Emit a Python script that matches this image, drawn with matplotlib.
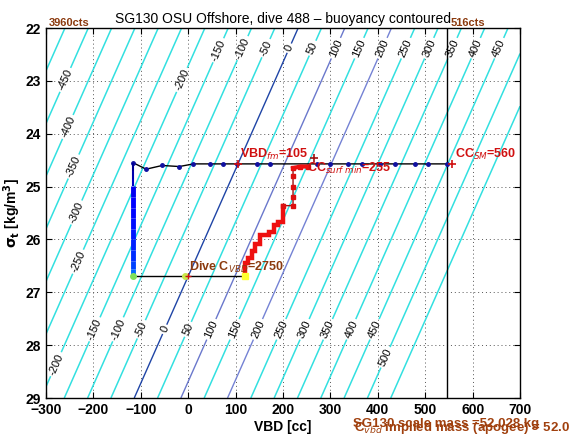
import numpy as np
import matplotlib
matplotlib.use("Agg")
import matplotlib.pyplot as plt
from matplotlib.collections import LineCollection

plt.rcParams['font.family'] = ['Liberation Sans', 'DejaVu Sans']

# ---------------- data ----------------
title = "SG130 OSU Offshore, dive 488 \u2013 buoyancy contoured"
xticks = [-300, -200, -100, 0, 100, 200, 300, 400, 500, 600, 700]
yticks = [22, 23, 24, 25, 26, 27, 28, 29]

# buoyancy model: zero-buoyancy VBD at sigma=29 and slope (cc per sigma unit)
vbd_zero_at_29 = -114.0
vbd_per_sigma = 49.4
gain = 50.0 / 49.2
contour_levels = list(range(-550, 551, 50))
dark_levels = {0: '#1f45a6', 100: '#6a78cc', 200: '#7482d4'}

# surface / pumping line (VBD, sigma)
surf_vbd = [-116, -89, -55, -19, 11, 46, 74, 103, 146, 173, 272, 300, 338, 367, 405, 437, 479, 506, 546]
surf_sig = [24.55, 24.67, 24.60, 24.62, 24.57, 24.57, 24.57, 24.57, 24.57, 24.57,
            24.57, 24.57, 24.57, 24.57, 24.57, 24.57, 24.57, 24.57, 24.57]

# descent (VBD constant)
desc_vbd = -116
desc_sig = [24.55, 24.70, 24.85, 24.99, 25.20, 25.40, 25.60, 25.80, 26.00, 26.20, 26.40, 26.55, 26.65, 26.70]
desc_col = [0.02, 0.04, 0.06, 0.10, 0.12, 0.13, 0.14, 0.15, 0.16, 0.17, 0.19, 0.23, 0.30, 0.40]

# apogee segment
apo_vbd = [-116, -6, 120]
apo_sig = [26.70, 26.70, 26.70]
apo_col = ['#7ee05a', '#c8e84a', '#ffff30']

# climb staircase
climb_vbd = [120, 120, 125, 125, 135, 135, 140, 140, 152, 152, 170, 170, 180, 180, 190, 190, 200, 200]
climb_sig = [26.69, 26.44, 26.44, 26.36, 26.36, 26.22, 26.22, 26.08, 26.08, 25.92, 25.92, 25.85,
             25.85, 25.72, 25.72, 25.66, 25.66, 25.36]
climb2_vbd = [200, 221, 221, 221, 221, 221, 236, 253]
climb2_sig = [25.36, 25.36, 25.20, 25.00, 24.80, 24.65, 24.62, 24.62]

vbd_fm = 105
cc_surf_min = 255
cc_sm = 560
dive_cvbd = 2750
vbd_min_line = -300
vbd_max_line = 546
sigma_surface = 24.57
sigma_apogee = 26.70

# ---------------- figure ----------------
fig = plt.figure(figsize=(5.69, 4.42), dpi=100)
ax = fig.add_axes([0.081, 0.0995, 0.833, 0.837])
ax.set_xlim(-300, 700)
ax.set_ylim(29, 22)

V, S = np.meshgrid(np.linspace(-300, 700, 201), np.linspace(22, 29, 141))
B = gain * (V - (vbd_zero_at_29 + vbd_per_sigma * (29 - S)))
cols = [dark_levels.get(l, '#33e0e0') for l in contour_levels]
lws = [1.0 if l in dark_levels else 1.1 for l in contour_levels]
cs = ax.contour(V, S, B, levels=contour_levels, colors=cols, linewidths=lws)

def on_line(b, sig):
    return (vbd_zero_at_29 + vbd_per_sigma * (29 - sig) + b / gain, sig)

label_spots = []
for b, sg in [(-450, 22.98), (-400, 23.87), (-350, 24.62), (-300, 25.49), (-250, 26.42),
              (-200, 28.36), (-200, 22.98), (-150, 22.42), (-150, 27.70)]:
    label_spots.append(on_line(b, sg))
for b in range(-100, 451, 50):
    label_spots.append(on_line(b, 22.38))
    label_spots.append(on_line(b, 27.70))
label_spots.append(on_line(500, 28.23))
texts = ax.clabel(cs, inline=True, fontsize=8, fmt=lambda v: '%d' % round(v),
                  manual=label_spots, colors='black', inline_spacing=2)

# screen-space angle of contour lines
fig.canvas.draw()
p0 = ax.transData.transform(on_line(0, 29.0))
p1 = ax.transData.transform(on_line(0, 22.0))
ang = np.degrees(np.arctan2(p1[1] - p0[1], p1[0] - p0[0]))
for t in cs.labelTexts:
    t.set_rotation(ang)

# vertical count-limit lines
ax.axvline(vbd_min_line, color='black', lw=1.2)
ax.axvline(vbd_max_line, color='black', lw=1.0)

# surface line
ax.plot(surf_vbd, surf_sig, color='black', lw=1.0, marker='o', ms=2.5,
        mfc='#1010a0', mec='#1010a0', zorder=5)

# descent colored
cmap = plt.get_cmap('jet')
pts = np.array([[desc_vbd, s] for s in desc_sig])
segs = np.stack([pts[:-1], pts[1:]], axis=1)
widths = [1.5 if s < 24.99 else 3.5 for s in desc_sig[:-1]]
lc = LineCollection(segs, colors=[cmap(c) for c in desc_col[:-1]], linewidths=widths, zorder=6)
ax.add_collection(lc)

# apogee
ax.plot(apo_vbd, apo_sig, color='black', lw=1.0, zorder=5)
for v, s, c in zip(apo_vbd, apo_sig, apo_col):
    ax.plot(v, s, marker='s' if v == apo_vbd[-1] else 'o', ms=4, color=c, zorder=7)

# climb
ax.plot(climb_vbd, climb_sig, color='#ee1010', lw=3.2, solid_joinstyle='miter', zorder=6)
ax.plot(climb2_vbd, climb2_sig, color='#a01010', lw=1.0, marker='s', ms=2.5,
        mfc='#dd1010', mec='#dd1010', zorder=6)
ax.plot(climb2_vbd[-3:], climb2_sig[-3:], color='#ee1010', lw=3.0, zorder=6)

# markers and annotations
red = '#d01010'
brown = '#8b3a0e'
ax.plot(vbd_fm, sigma_surface, '+', color=red, ms=6, mew=1.2, zorder=8)
ax.text(vbd_fm + 5, sigma_surface - 0.03, 'VBD$_{fm}$=%d' % vbd_fm, color=red,
        fontsize=9, fontweight='bold', va='bottom', ha='left', zorder=9)
ax.plot(cc_surf_min + 10, sigma_surface - 0.12, '+', color='#a01010', ms=6, mew=1.2, zorder=8)
ax.text(cc_surf_min - 5, sigma_surface + 0.08, 'CC$_{surf\\ min}$=%d' % cc_surf_min, color=red,
        fontsize=9, fontweight='bold', va='center', ha='left', zorder=9)
ax.plot(cc_sm - 3, sigma_surface, '+', color=red, ms=6, mew=1.2, zorder=8)
ax.text(cc_sm + 2, sigma_surface - 0.03, 'CC$_{SM}$=%d' % cc_sm, color=red,
        fontsize=9, fontweight='bold', va='bottom', ha='left', zorder=9)
ax.plot(0, sigma_apogee, '+', color=red, ms=5, mew=1.0, zorder=8)
ax.text(2, sigma_apogee - 0.03, 'Dive C$_{VBD}$=%d' % dive_cvbd, color=brown,
        fontsize=9, fontweight='bold', va='bottom', ha='left', zorder=9)

ax.text(-295, 22.0, '3960cts', color=brown, fontsize=8, fontweight='bold', va='bottom', ha='left')
ax.text(vbd_max_line + 8, 22.0, '516cts', color=brown, fontsize=8, fontweight='bold', va='bottom', ha='left')

ax.set_xticks(xticks)
ax.set_yticks(yticks)
ax.tick_params(direction='in', top=True, right=True, length=4, labelsize=10)
for lab in ax.get_xticklabels() + ax.get_yticklabels():
    lab.set_fontweight('bold')
ax.grid(True, color='#555555', linestyle=(0, (1, 3)), linewidth=0.7)
for sp in ax.spines.values():
    sp.set_linewidth(1.0)

ax.set_xlabel('VBD [cc]', fontsize=10, fontweight='bold', labelpad=2)
ax.set_ylabel('$\\mathbf{\\sigma_t}$ [kg/m$^\\mathbf{3}$]', fontsize=10, fontweight='bold', labelpad=2)
ax.set_title(title, fontsize=10, pad=4)

fig.text(353/569, 1 - 424/442, 'SG130 scale mass =52.028 kg', color='#a0400e', fontsize=9.5,
         fontweight='bold', va='center', ha='left')
fig.text(354/569, 1 - 428/442, 'C$_{vbd}$ implied mass (apogee) = 52.024 kg', color='#a0400e', fontsize=9.5,
         fontweight='bold', va='center', ha='left')

fig.savefig('out.png', dpi=100)
